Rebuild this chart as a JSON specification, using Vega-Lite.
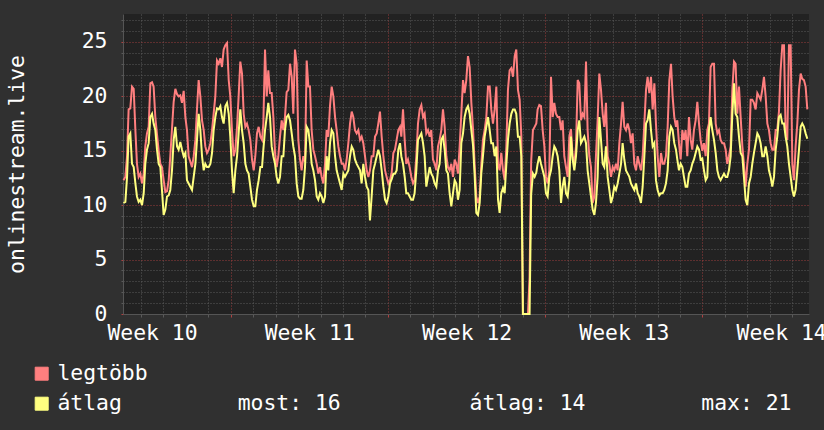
{
 "$schema": "https://vega.github.io/schema/vega-lite/v6.json",
 "width": 686, "height": 300,
 "autosize": {"type": "none"},
 "padding": {"left": 123, "top": 14, "right": 15, "bottom": 116},
 "background": "#303030",
 "config": {
  "view": {"fill": "#222222", "stroke": null},
  "font": "DejaVu Sans Mono",
  "axis": {"labelFont": "DejaVu Sans Mono", "titleFont": "DejaVu Sans Mono", "labelColor": "#ffffff", "titleColor": "#ffffff", "labelFontSize": 21.4, "titleFontSize": 21.4, "titleFontWeight": "normal", "labelOverlap": false, "labelFlush": false, "labelBound": false, "domainColor": "#555555"}
 },
 "data": {"values": [
{"t":53.5,"max":12.3,"avg":10.2},{"t":55.5,"max":12.6,"avg":10.3},{"t":57.3,"max":14.5,"avg":12.6},{"t":59.0,"max":18.8,"avg":16.3},{"t":60.8,"max":18.9,"avg":16.6},{"t":62.6,"max":20.9,"avg":13.8},{"t":64.4,"max":20.7,"avg":13.5},{"t":66.2,"max":16.9,"avg":12.0},{"t":67.9,"max":13.8,"avg":10.8},{"t":69.7,"max":12.6,"avg":10.3},{"t":71.5,"max":12.9,"avg":10.5},{"t":73.3,"max":12.0,"avg":10.0},{"t":75.1,"max":12.9,"avg":11.1},{"t":76.8,"max":15.4,"avg":13.8},{"t":78.6,"max":16.6,"avg":15.1},{"t":80.4,"max":17.2,"avg":15.7},{"t":82.2,"max":21.2,"avg":18.1},{"t":84.0,"max":21.3,"avg":18.4},{"t":85.7,"max":20.9,"avg":17.5},{"t":87.5,"max":18.1,"avg":16.9},{"t":89.3,"max":16.5,"avg":15.1},{"t":91.1,"max":15.0,"avg":13.8},{"t":92.9,"max":13.8,"avg":13.5},{"t":94.6,"max":13.5,"avg":11.4},{"t":96.4,"max":12.3,"avg":9.1},{"t":98.2,"max":11.2,"avg":9.6},{"t":100.0,"max":11.3,"avg":10.8},{"t":101.8,"max":12.3,"avg":10.9},{"t":103.5,"max":14.5,"avg":11.4},{"t":105.3,"max":17.0,"avg":13.2},{"t":107.1,"max":19.5,"avg":16.0},{"t":108.9,"max":20.7,"avg":17.2},{"t":110.7,"max":20.2,"avg":15.4},{"t":112.4,"max":20.0,"avg":15.1},{"t":114.2,"max":20.1,"avg":15.8},{"t":116.0,"max":19.4,"avg":15.1},{"t":117.8,"max":20.5,"avg":14.5},{"t":119.6,"max":18.1,"avg":14.8},{"t":121.3,"max":16.9,"avg":12.3},{"t":123.1,"max":14.5,"avg":12.0},{"t":124.9,"max":14.0,"avg":11.7},{"t":126.7,"max":13.5,"avg":11.4},{"t":128.5,"max":14.5,"avg":12.6},{"t":130.3,"max":16.0,"avg":13.8},{"t":132.0,"max":18.8,"avg":16.0},{"t":133.8,"max":21.5,"avg":18.4},{"t":135.6,"max":20.0,"avg":16.9},{"t":137.4,"max":17.8,"avg":14.5},{"t":139.2,"max":16.9,"avg":13.2},{"t":140.9,"max":15.4,"avg":13.8},{"t":142.7,"max":14.8,"avg":13.5},{"t":144.5,"max":15.1,"avg":13.5},{"t":146.3,"max":15.7,"avg":13.8},{"t":148.1,"max":16.9,"avg":14.8},{"t":149.8,"max":18.4,"avg":16.9},{"t":151.6,"max":20.0,"avg":18.1},{"t":153.4,"max":23.3,"avg":18.9},{"t":155.2,"max":23.0,"avg":18.8},{"t":157.0,"max":23.5,"avg":19.1},{"t":158.7,"max":22.7,"avg":18.1},{"t":160.5,"max":24.3,"avg":17.5},{"t":162.3,"max":24.7,"avg":19.1},{"t":164.1,"max":24.9,"avg":19.4},{"t":165.9,"max":21.5,"avg":18.4},{"t":167.6,"max":20.0,"avg":16.3},{"t":169.4,"max":16.9,"avg":13.2},{"t":171.2,"max":14.5,"avg":11.1},{"t":173.0,"max":15.1,"avg":13.2},{"t":174.8,"max":17.2,"avg":14.5},{"t":176.5,"max":20.0,"avg":16.6},{"t":178.3,"max":23.2,"avg":18.8},{"t":180.1,"max":22.1,"avg":16.9},{"t":181.9,"max":18.4,"avg":15.7},{"t":183.7,"max":17.2,"avg":13.8},{"t":185.4,"max":17.5,"avg":13.2},{"t":187.2,"max":16.9,"avg":12.9},{"t":189.0,"max":16.0,"avg":11.7},{"t":190.8,"max":14.2,"avg":10.5},{"t":192.6,"max":13.2,"avg":9.9},{"t":194.3,"max":14.5,"avg":9.9},{"t":196.1,"max":16.6,"avg":11.4},{"t":197.9,"max":17.2,"avg":12.3},{"t":199.7,"max":16.3,"avg":13.5},{"t":201.5,"max":16.0,"avg":13.5},
{"t":202.9,"max":17.5,"avg":15.1},{"t":204.7,"max":24.3,"avg":16.9},{"t":206.5,"max":20.0,"avg":18.1},{"t":208.2,"max":22.4,"avg":19.4},{"t":210.0,"max":20.3,"avg":18.1},{"t":211.8,"max":20.3,"avg":15.4},{"t":213.6,"max":18.1,"avg":14.5},{"t":215.4,"max":14.8,"avg":13.8},{"t":217.1,"max":13.5,"avg":12.6},{"t":218.9,"max":14.5,"avg":12.0},{"t":220.7,"max":16.3,"avg":12.6},{"t":222.5,"max":17.8,"avg":14.5},{"t":224.3,"max":16.9,"avg":14.5},{"t":226.0,"max":18.1,"avg":16.9},{"t":227.8,"max":20.4,"avg":18.1},{"t":229.6,"max":20.6,"avg":18.3},{"t":231.4,"max":23.0,"avg":17.8},{"t":233.2,"max":21.8,"avg":16.6},{"t":234.9,"max":18.4,"avg":15.4},{"t":236.7,"max":24.3,"avg":14.5},{"t":238.5,"max":23.0,"avg":12.0},{"t":240.3,"max":16.0,"avg":10.8},{"t":242.1,"max":14.2,"avg":10.6},{"t":243.8,"max":13.2,"avg":10.6},{"t":245.6,"max":14.5,"avg":11.4},{"t":247.4,"max":14.0,"avg":13.5},{"t":249.2,"max":23.3,"avg":17.2},{"t":251.0,"max":20.9,"avg":16.9},{"t":252.7,"max":20.9,"avg":15.7},{"t":254.5,"max":16.9,"avg":13.8},{"t":256.3,"max":15.1,"avg":13.2},{"t":258.1,"max":14.5,"avg":12.3},{"t":259.9,"max":13.8,"avg":10.8},{"t":261.6,"max":12.9,"avg":10.5},{"t":263.4,"max":13.5,"avg":11.1},{"t":265.2,"max":12.6,"avg":10.8},{"t":267.0,"max":12.0,"avg":10.2},{"t":268.8,"max":13.8,"avg":10.8},{"t":270.5,"max":16.9,"avg":14.5},{"t":272.3,"max":16.3,"avg":13.2},{"t":274.1,"max":19.1,"avg":15.7},{"t":275.9,"max":20.9,"avg":16.9},{"t":277.7,"max":20.0,"avg":16.6},{"t":279.5,"max":18.1,"avg":14.5},{"t":281.2,"max":16.9,"avg":13.2},{"t":283.0,"max":15.4,"avg":12.6},{"t":284.8,"max":14.5,"avg":12.0},{"t":286.6,"max":13.8,"avg":11.4},{"t":288.4,"max":13.8,"avg":12.9},{"t":290.1,"max":13.2,"avg":12.6},{"t":291.9,"max":14.2,"avg":12.9},{"t":293.7,"max":15.7,"avg":13.2},{"t":295.5,"max":17.5,"avg":14.5},{"t":297.3,"max":18.6,"avg":15.4},{"t":299.0,"max":18.1,"avg":15.1},{"t":300.8,"max":16.9,"avg":14.2},{"t":302.6,"max":16.6,"avg":13.8},{"t":304.4,"max":16.9,"avg":13.5},{"t":306.2,"max":16.0,"avg":13.2},{"t":307.9,"max":16.3,"avg":12.0},{"t":309.7,"max":15.7,"avg":13.8},{"t":311.5,"max":14.5,"avg":12.6},{"t":313.3,"max":13.2,"avg":11.7},{"t":315.1,"max":12.6,"avg":11.4},{"t":316.8,"max":13.2,"avg":8.6},{"t":318.6,"max":14.5,"avg":10.8},{"t":320.4,"max":14.5,"avg":13.2},{"t":322.2,"max":16.3,"avg":13.8},{"t":324.0,"max":16.6,"avg":14.5},{"t":325.7,"max":17.5,"avg":15.1},{"t":327.5,"max":18.6,"avg":14.5},{"t":329.3,"max":16.3,"avg":13.2},{"t":331.1,"max":14.5,"avg":11.7},{"t":332.9,"max":13.2,"avg":10.5},{"t":334.6,"max":12.6,"avg":10.2},{"t":336.4,"max":12.0,"avg":10.8},{"t":338.2,"max":12.3,"avg":12.0},{"t":340.0,"max":13.0,"avg":12.4},{"t":341.8,"max":14.8,"avg":12.9},{"t":343.5,"max":15.1,"avg":12.9},{"t":345.3,"max":16.0,"avg":13.2},{"t":347.1,"max":16.9,"avg":15.1},{"t":348.9,"max":17.2,"avg":15.7},
{"t":350.3,"max":16.3,"avg":14.5},{"t":352.1,"max":18.8,"avg":13.8},{"t":353.9,"max":16.0,"avg":12.6},{"t":355.6,"max":13.8,"avg":11.1},{"t":357.4,"max":14.2,"avg":11.1},{"t":359.2,"max":13.5,"avg":10.8},{"t":361.0,"max":12.6,"avg":10.5},{"t":362.8,"max":12.0,"avg":10.5},{"t":364.5,"max":12.3,"avg":11.1},{"t":366.3,"max":14.5,"avg":13.2},{"t":368.1,"max":17.5,"avg":16.0},{"t":369.9,"max":18.8,"avg":16.3},{"t":371.7,"max":19.2,"avg":16.6},{"t":373.5,"max":18.1,"avg":15.7},{"t":375.2,"max":18.4,"avg":14.5},{"t":377.0,"max":16.6,"avg":11.7},{"t":378.8,"max":16.9,"avg":12.6},{"t":380.6,"max":16.3,"avg":13.5},{"t":382.3,"max":16.9,"avg":12.9},{"t":384.1,"max":14.2,"avg":12.6},{"t":385.9,"max":13.8,"avg":12.0},{"t":387.7,"max":13.2,"avg":11.7},{"t":389.5,"max":15.4,"avg":13.2},{"t":391.2,"max":16.0,"avg":13.8},{"t":393.0,"max":16.9,"avg":16.0},{"t":394.8,"max":18.8,"avg":16.3},{"t":396.6,"max":17.2,"avg":15.1},{"t":398.4,"max":14.5,"avg":13.2},{"t":400.1,"max":13.5,"avg":12.9},{"t":401.9,"max":13.2,"avg":11.1},{"t":403.7,"max":13.8,"avg":9.9},{"t":405.5,"max":12.6,"avg":11.1},{"t":407.3,"max":14.2,"avg":12.3},{"t":409.0,"max":13.8,"avg":12.0},{"t":410.8,"max":12.9,"avg":10.5},{"t":412.6,"max":15.4,"avg":11.4},{"t":414.4,"max":18.4,"avg":15.7},{"t":416.2,"max":21.5,"avg":16.6},{"t":417.9,"max":20.3,"avg":18.1},{"t":419.7,"max":21.5,"avg":18.8},{"t":421.5,"max":23.7,"avg":19.1},{"t":423.3,"max":22.7,"avg":18.4},{"t":425.1,"max":19.4,"avg":16.9},{"t":426.9,"max":17.0,"avg":15.5},{"t":428.6,"max":13.8,"avg":12.8},{"t":430.4,"max":10.8,"avg":9.3},{"t":432.2,"max":10.2,"avg":9.1},{"t":434.0,"max":10.8,"avg":10.2},{"t":435.8,"max":13.8,"avg":13.0},{"t":437.5,"max":16.0,"avg":14.5},{"t":439.3,"max":16.9,"avg":16.3},{"t":441.1,"max":18.1,"avg":17.2},{"t":442.9,"max":20.9,"avg":18.1},{"t":444.7,"max":20.9,"avg":16.9},{"t":446.4,"max":18.8,"avg":15.7},{"t":448.2,"max":17.5,"avg":15.7},{"t":450.0,"max":18.8,"avg":14.5},{"t":451.8,"max":20.9,"avg":15.4},{"t":453.6,"max":13.8,"avg":10.5},{"t":455.3,"max":13.2,"avg":9.3},{"t":457.1,"max":14.8,"avg":11.1},{"t":458.9,"max":13.2,"avg":11.6},{"t":460.7,"max":12.3,"avg":11.1},{"t":462.5,"max":15.4,"avg":13.8},{"t":464.2,"max":20.6,"avg":16.0},{"t":466.0,"max":22.4,"avg":17.5},{"t":467.8,"max":22.6,"avg":18.4},{"t":469.6,"max":21.8,"avg":18.8},{"t":471.4,"max":23.7,"avg":18.8},{"t":473.1,"max":24.3,"avg":18.4},{"t":474.9,"max":20.6,"avg":16.3},{"t":476.7,"max":19.7,"avg":16.3},{"t":478.5,"max":16.3,"avg":14.5},{"t":480.2,"max":0,"avg":0},{"t":485.6,"max":0,"avg":0},{"t":487.3,"max":3.4,"avg":0},{"t":489.0,"max":14.0,"avg":11.0},{"t":490.9,"max":16.9,"avg":12.9},{"t":492.7,"max":17.2,"avg":12.6},{"t":494.5,"max":17.5,"avg":13.0},
{"t":495.9,"max":18.8,"avg":13.8},{"t":497.7,"max":19.2,"avg":14.5},{"t":499.5,"max":19.1,"avg":13.8},{"t":501.3,"max":16.9,"avg":13.2},{"t":503.1,"max":15.4,"avg":12.6},{"t":504.8,"max":12.6,"avg":11.1},{"t":506.6,"max":12.0,"avg":10.8},{"t":508.4,"max":13.2,"avg":12.6},{"t":510.2,"max":21.8,"avg":13.2},{"t":512.0,"max":18.1,"avg":14.5},{"t":513.7,"max":19.4,"avg":15.4},{"t":515.5,"max":18.4,"avg":15.1},{"t":517.3,"max":18.1,"avg":14.5},{"t":519.1,"max":18.1,"avg":13.2},{"t":520.9,"max":16.9,"avg":10.2},{"t":522.6,"max":17.8,"avg":11.7},{"t":524.4,"max":14.5,"avg":12.6},{"t":526.2,"max":13.5,"avg":11.1},{"t":528.0,"max":12.6,"avg":10.8},{"t":529.8,"max":16.3,"avg":12.3},{"t":531.5,"max":17.0,"avg":16.3},{"t":533.3,"max":14.5,"avg":14.2},{"t":535.1,"max":13.8,"avg":13.2},{"t":536.9,"max":15.4,"avg":14.5},{"t":538.7,"max":21.5,"avg":16.9},{"t":540.4,"max":21.2,"avg":17.8},{"t":542.2,"max":17.8,"avg":15.7},{"t":544.0,"max":18.4,"avg":16.0},{"t":545.8,"max":18.1,"avg":16.3},{"t":547.6,"max":23.2,"avg":15.7},{"t":549.3,"max":16.9,"avg":13.2},{"t":551.1,"max":14.5,"avg":12.0},{"t":552.9,"max":13.5,"avg":10.8},{"t":554.7,"max":10.2,"avg":9.6},{"t":556.5,"max":10.8,"avg":9.1},{"t":558.2,"max":14.5,"avg":10.2},{"t":560.0,"max":17.8,"avg":12.6},{"t":561.8,"max":22.1,"avg":18.1},{"t":563.6,"max":20.6,"avg":16.0},{"t":565.4,"max":18.4,"avg":13.8},{"t":567.1,"max":17.2,"avg":13.5},{"t":568.9,"max":19.4,"avg":15.4},{"t":570.7,"max":14.5,"avg":12.6},{"t":572.5,"max":13.8,"avg":11.4},{"t":574.3,"max":12.6,"avg":10.2},{"t":576.1,"max":13.5,"avg":10.8},{"t":577.8,"max":13.2,"avg":11.7},{"t":579.6,"max":13.8,"avg":11.4},{"t":581.4,"max":13.2,"avg":12.0},{"t":583.2,"max":15.7,"avg":12.9},{"t":585.0,"max":17.5,"avg":13.8},{"t":586.7,"max":19.5,"avg":15.7},{"t":588.5,"max":17.2,"avg":14.2},{"t":590.3,"max":16.9,"avg":13.2},{"t":592.1,"max":17.5,"avg":12.9},{"t":593.9,"max":16.9,"avg":12.6},{"t":595.6,"max":15.7,"avg":12.0},{"t":597.4,"max":16.6,"avg":11.7},{"t":599.2,"max":13.8,"avg":11.4},{"t":601.0,"max":13.2,"avg":12.0},{"t":602.8,"max":14.5,"avg":11.1},{"t":604.5,"max":13.8,"avg":10.8},{"t":606.3,"max":13.2,"avg":10.2},{"t":608.1,"max":14.5,"avg":11.7},{"t":609.9,"max":17.5,"avg":14.5},{"t":611.7,"max":20.6,"avg":17.5},{"t":613.4,"max":21.8,"avg":17.8},{"t":615.2,"max":20.3,"avg":18.8},{"t":617.0,"max":21.8,"avg":16.9},{"t":618.8,"max":18.8,"avg":15.4},{"t":620.6,"max":21.2,"avg":15.7},{"t":622.3,"max":17.5,"avg":12.3},{"t":624.1,"max":14.5,"avg":11.4},{"t":625.9,"max":12.6,"avg":10.9},{"t":627.7,"max":14.8,"avg":11.1},{"t":629.5,"max":13.8,"avg":11.1},{"t":631.2,"max":13.8,"avg":11.4},{"t":633.0,"max":14.5,"avg":12.0},{"t":634.8,"max":17.2,"avg":13.2},{"t":636.6,"max":21.5,"avg":16.3},{"t":638.4,"max":23.0,"avg":17.2},{"t":640.1,"max":20.0,"avg":16.9},{"t":641.9,"max":18.1,"avg":15.7},{"t":643.7,"max":17.2,"avg":15.1},
{"t":645.1,"max":17.8,"avg":14.2},{"t":646.9,"max":15.7,"avg":13.2},{"t":648.7,"max":14.2,"avg":13.8},{"t":650.5,"max":16.9,"avg":13.5},{"t":652.2,"max":16.0,"avg":12.6},{"t":654.0,"max":16.9,"avg":11.7},{"t":655.8,"max":14.5,"avg":11.7},{"t":657.6,"max":18.1,"avg":12.9},{"t":659.4,"max":16.0,"avg":13.2},{"t":661.1,"max":15.1,"avg":13.8},{"t":662.9,"max":16.9,"avg":14.2},{"t":664.7,"max":17.8,"avg":14.8},{"t":666.5,"max":19.5,"avg":15.4},{"t":668.3,"max":17.5,"avg":15.1},{"t":670.0,"max":16.0,"avg":14.2},{"t":671.8,"max":15.0,"avg":14.3},{"t":673.6,"max":15.7,"avg":13.2},{"t":675.4,"max":14.5,"avg":12.3},{"t":677.2,"max":16.9,"avg":12.6},{"t":678.9,"max":17.5,"avg":16.9},{"t":680.7,"max":22.7,"avg":18.1},{"t":682.5,"max":23.0,"avg":16.9},{"t":684.3,"max":23.0,"avg":16.0},{"t":686.1,"max":17.5,"avg":14.8},{"t":687.9,"max":16.6,"avg":13.2},{"t":689.6,"max":16.9,"avg":12.6},{"t":691.4,"max":16.0,"avg":12.3},{"t":693.2,"max":15.7,"avg":12.6},{"t":695.0,"max":15.7,"avg":12.9},{"t":696.8,"max":15.1,"avg":12.6},{"t":698.5,"max":13.8,"avg":12.6},{"t":700.3,"max":14.5,"avg":13.2},{"t":702.1,"max":15.4,"avg":14.5},{"t":703.9,"max":20.6,"avg":18.4},{"t":705.7,"max":23.2,"avg":21.2},{"t":707.4,"max":23.0,"avg":18.4},{"t":709.2,"max":18.4,"avg":18.1},{"t":711.0,"max":20.9,"avg":16.3},{"t":712.8,"max":18.1,"avg":14.8},{"t":714.6,"max":15.4,"avg":14.5},{"t":716.3,"max":13.8,"avg":12.6},{"t":718.1,"max":11.7,"avg":10.5},{"t":719.9,"max":13.8,"avg":10.0},{"t":721.7,"max":15.1,"avg":12.0},{"t":723.5,"max":19.7,"avg":12.6},{"t":725.2,"max":19.7,"avg":13.8},{"t":727.0,"max":19.4,"avg":14.8},{"t":728.8,"max":18.8,"avg":15.7},{"t":730.6,"max":20.3,"avg":16.6},{"t":732.4,"max":20.0,"avg":16.3},{"t":734.1,"max":19.7,"avg":15.7},{"t":735.9,"max":20.6,"avg":14.5},{"t":737.7,"max":21.8,"avg":14.5},{"t":739.5,"max":20.0,"avg":15.4},{"t":741.3,"max":17.5,"avg":14.5},{"t":743.0,"max":16.9,"avg":13.2},{"t":744.8,"max":15.7,"avg":12.6},{"t":746.6,"max":15.1,"avg":11.7},{"t":748.4,"max":15.1,"avg":12.6},{"t":750.2,"max":16.9,"avg":15.1},{"t":751.9,"max":16.9,"avg":16.3},{"t":753.7,"max":18.6,"avg":18.1},{"t":755.5,"max":22.4,"avg":18.3},{"t":757.3,"max":24.7,"avg":17.5},{"t":759.1,"max":24.7,"avg":17.5},{"t":760.8,"max":16.8,"avg":16.3},{"t":762.6,"max":16.0,"avg":15.4},{"t":764.4,"max":24.7,"avg":13.8},{"t":766.2,"max":24.7,"avg":12.6},{"t":768.0,"max":13.8,"avg":11.4},{"t":769.7,"max":12.3,"avg":10.8},{"t":771.5,"max":15.4,"avg":11.4},{"t":773.3,"max":17.5,"avg":13.2},{"t":775.1,"max":20.6,"avg":15.1},{"t":776.9,"max":22.1,"avg":17.2},{"t":778.6,"max":21.6,"avg":17.5},{"t":780.4,"max":21.5,"avg":17.2},{"t":782.2,"max":20.9,"avg":16.6},{"t":784.0,"max":18.8,"avg":16.1}
 ]},
 "encoding": {
  "x": {"field": "t", "type": "quantitative", "scale": {"domain": [52.98, 785.8], "nice": false, "zero": false},
   "axis": {"title": null, "tickCount": 200,
    "values": [72,84,96,120,144,168,192,216,240,252,264,288,312,336,360,384,408,420,432,456,480,504,528,552,576,588,600,624,648,672,696,720,744,756,768],
    "labelExpr": "(datum.value - 84) % 168 === 0 ? 'Week ' + (10 + (datum.value - 84) / 168) : ''",
    "grid": true,
    "gridDash": [1, 2],
    "gridOpacity": {"condition": {"test": "datum.value % 24 !== 0", "value": 0}, "value": 1},
    "gridColor": {"condition": {"test": "datum.value % 168 === 0", "value": "#9a3c3c"}, "value": "#5a5a5a"},
    "tickOpacity": {"condition": {"test": "datum.value % 24 !== 0", "value": 0}, "value": 1},
    "tickColor": {"condition": {"test": "datum.value % 168 === 0", "value": "#b04040"}, "value": "#5a5a5a"},
    "tickSize": 3, "labelPadding": 5}
  }
 },
 "layer": [
  {"mark": {"type": "line", "strokeWidth": 2},
   "encoding": {
    "y": {"field": "max", "type": "quantitative", "scale": {"domain": [0, 27.57], "nice": false},
     "axis": {"title": "onlinestream.live", "tickCount": 200,
      "values": [0,1,2,3,4,5,6,7,8,9,10,11,12,13,14,15,16,17,18,19,20,21,22,23,24,25,26,27],
      "labelExpr": "datum.value % 5 === 0 ? '' + datum.value : ''",
      "grid": true, "gridDash": [1, 2],
      "gridColor": {"condition": {"test": "datum.value % 5 === 0", "value": "#9a3c3c"}, "value": "#5a5a5a"},
      "tickColor": {"condition": {"test": "datum.value % 5 === 0", "value": "#b04040"}, "value": "#5a5a5a"},
      "tickSize": 2, "labelPadding": 14,
      "titleX": -100, "titleY": 150, "titleAngle": 270, "titleAlign": "center", "titleBaseline": "alphabetic"}},
    "color": {"datum": "legtöbb", "type": "nominal",
     "scale": {"domain": ["legtöbb", "átlag"], "range": ["#ff7f7f", "#ffff80"]},
     "legend": {"title": null, "orient": "none", "legendX": -92, "legendY": 349, "direction": "vertical", "padding": 0,
      "symbolType": "square", "symbolSize": 169, "symbolStrokeColor": "#000000", "symbolStrokeWidth": 1,
      "labelFont": "DejaVu Sans Mono", "labelFontSize": 21.4, "labelColor": "#ffffff", "labelOffset": 5, "rowPadding": 7, "labelLimit": 1000,
      "labelExpr": "datum.label === 'átlag' ? 'átlag\u00a0\u00a0\u00a0\u00a0\u00a0\u00a0\u00a0\u00a0\u00a0most:\u00a016\u00a0\u00a0\u00a0\u00a0\u00a0\u00a0\u00a0\u00a0\u00a0\u00a0átlag:\u00a014\u00a0\u00a0\u00a0\u00a0\u00a0\u00a0\u00a0\u00a0\u00a0max:\u00a021' : datum.label",
      "encode": {"symbols": {"update": {"fill": {"scale": "color", "field": "value"}, "fillOpacity": {"value": 1}, "stroke": {"value": "#000000"}, "strokeWidth": {"value": 1}}}}}}
   }},
  {"mark": {"type": "line", "strokeWidth": 2},
   "encoding": {
    "y": {"field": "avg", "type": "quantitative", "title": "onlinestream.live"},
    "color": {"datum": "átlag", "type": "nominal"}
   }}
 ]
}
